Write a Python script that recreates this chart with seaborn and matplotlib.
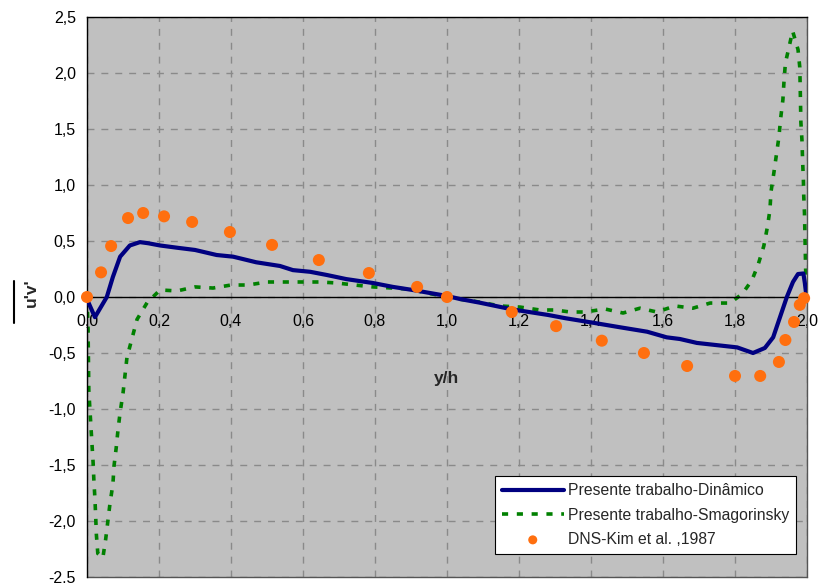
import matplotlib
matplotlib.use("Agg")
import matplotlib.pyplot as plt
import seaborn as sns
from matplotlib.lines import Line2D

sns.set_style("white")
plt.rcParams["font.family"] = ["Liberation Sans", "DejaVu Sans"]

# Presente trabalho - modelo dinâmico
din_x = [0.0, 0.022, 0.055, 0.072, 0.092, 0.119, 0.147, 0.17, 0.203, 0.25, 0.3,
         0.36, 0.406, 0.47, 0.536, 0.572, 0.62, 0.667, 0.72, 0.794, 0.85, 0.906,
         1.0, 1.036, 1.09, 1.18, 1.28, 1.33, 1.406, 1.48, 1.556, 1.61, 1.647,
         1.694, 1.75, 1.806, 1.85, 1.883, 1.906, 1.925, 1.944, 1.961, 1.975,
         1.99, 1.994, 1.997]
din_y = [-0.02, -0.18, 0.0, 0.18, 0.36, 0.46, 0.49, 0.48, 0.46, 0.44, 0.42,
         0.375, 0.36, 0.31, 0.277, 0.24, 0.225, 0.196, 0.16, 0.125, 0.09, 0.062,
         0.009, -0.018, -0.05, -0.11, -0.16, -0.19, -0.23, -0.27, -0.31, -0.36,
         -0.375, -0.41, -0.43, -0.45, -0.5, -0.455, -0.36, -0.18, 0.0, 0.134,
         0.205, 0.21, 0.125, 0.045]

# Presente trabalho - modelo de Smagorinsky
sma_x = [0.0, 0.003, 0.005, 0.008, 0.011, 0.014, 0.017, 0.019, 0.022, 0.024,
         0.026, 0.03, 0.044, 0.052, 0.058, 0.064, 0.072, 0.075, 0.081, 0.086,
         0.092, 0.1, 0.111, 0.125, 0.139, 0.167, 0.203, 0.25, 0.3, 0.35, 0.4,
         0.447, 0.5, 0.544, 0.6, 0.647, 0.694, 0.744, 0.794, 0.847, 0.897, 0.944,
         1.0, 1.036, 1.09, 1.147, 1.203, 1.258, 1.3, 1.342, 1.383, 1.439, 1.489,
         1.536, 1.583, 1.633, 1.683, 1.731, 1.786, 1.82, 1.847, 1.864, 1.88,
         1.89, 1.897, 1.9, 1.908, 1.915, 1.922, 1.927, 1.933, 1.936, 1.94, 1.95,
         1.96, 1.975, 1.98, 1.981, 1.982, 1.983, 1.986, 1.988, 1.99, 1.991,
         1.993, 1.994, 1.995, 1.996, 1.997, 1.998]
sma_y = [0.0, -0.3, -0.83, -1.0, -1.16, -1.32, -1.48, -1.63, -1.8, -1.95,
         -2.12, -2.29, -2.33, -2.16, -2.0, -1.84, -1.67, -1.51, -1.35, -1.19,
         -1.03, -0.86, -0.54, -0.37, -0.2, -0.05, 0.063, 0.054, 0.09, 0.08, 0.107,
         0.107, 0.134, 0.134, 0.134, 0.134, 0.125, 0.107, 0.09, 0.08, 0.07, 0.036,
         0.0, -0.02, -0.045, -0.08, -0.09, -0.116, -0.116, -0.134, -0.134, -0.107,
         -0.143, -0.1, -0.134, -0.08, -0.1, -0.054, -0.054, 0.027, 0.15, 0.286,
         0.455, 0.625, 0.777, 0.94, 1.11, 1.27, 1.43, 1.6, 1.76, 1.92, 2.09,
         2.23, 2.375, 2.21, 2.05, 1.89, 1.73, 1.56, 1.4, 1.2, 1.04, 0.9, 0.75,
         0.6, 0.44, 0.29, 0.125, 0.02]

# DNS - Kim et al., 1987
dns_x = [0.0, 0.039, 0.067, 0.114, 0.156, 0.214, 0.292, 0.397, 0.514, 0.644,
         0.783, 0.917, 1.0, 1.18, 1.303, 1.43, 1.547, 1.667, 1.8, 1.87, 1.922,
         1.94, 1.964, 1.98, 1.992]
dns_y = [0.0, 0.22, 0.455, 0.705, 0.75, 0.72, 0.67, 0.58, 0.465, 0.33, 0.214,
         0.09, 0.0, -0.134, -0.26, -0.39, -0.5, -0.616, -0.705, -0.705, -0.58,
         -0.384, -0.223, -0.07, -0.01]

labels = ["Presente trabalho-Dinâmico", "Presente trabalho-Smagorinsky",
          "DNS-Kim et al. ,1987"]

xticks = [0.0, 0.2, 0.4, 0.6, 0.8, 1.0, 1.2, 1.4, 1.6, 1.8, 2.0]
xtick_labels = ["0,0", "0,2", "0,4", "0,6", "0,8", "1,0", "1,2", "1,4", "1,6",
                "1,8", "2,0"]
yticks = [-2.5, -2.0, -1.5, -1.0, -0.5, 0.0, 0.5, 1.0, 1.5, 2.0, 2.5]
ytick_labels = ["-2,5", "-2,0", "-1,5", "-1,0", "-0,5", "0,0", "0,5", "1,0",
                "1,5", "2,0", "2,5"]

fig = plt.figure(figsize=(8.19, 5.83), dpi=100)
ax = fig.add_axes([87 / 819, 1 - 577 / 583, 720 / 819, 560 / 583])
ax.set_facecolor("#C0C0C0")

sns.lineplot(x=din_x, y=din_y, ax=ax, color="#000080", lw=3.0, sort=False,
             estimator=None, label=labels[0], zorder=3)
sns.lineplot(x=sma_x, y=sma_y, ax=ax, color="#008000", lw=2.6, sort=False,
             estimator=None, label=labels[1], zorder=2,
             linestyle=(0, (1.7, 2.4)))
sns.scatterplot(x=dns_x, y=dns_y, ax=ax, color="#FF6F0F", s=75,
                edgecolor="none", label=labels[2], zorder=4, clip_on=False)

ax.set_xlim(0, 2)
ax.set_ylim(-2.5, 2.5)
ax.set_xticks(xticks)
ax.set_xticklabels(xtick_labels)
ax.set_yticks(yticks)
ax.set_yticklabels(ytick_labels)

ax.grid(True, color="#8A8A8A", lw=1.0, linestyle=(0, (5, 5)))
ax.set_axisbelow(True)

# axis frame: y axis and top in black, x axis through zero
ax.spines["bottom"].set_position(("data", 0))
ax.spines["bottom"].set_color("black")
ax.spines["left"].set_color("black")
ax.spines["top"].set_color("black")
ax.spines["right"].set_color("#555555")
for s in ax.spines.values():
    s.set_linewidth(1.0)
ax.axhline(-2.5, color="#555555", lw=1.0, clip_on=False, zorder=1)

ax.tick_params(axis="x", direction="out", length=5, width=1, pad=7,
               labelsize=11.5, colors="black")
ax.tick_params(axis="y", direction="out", length=5, width=1, pad=3,
               labelsize=11.5, colors="black")

ax.set_xlabel("y/h", fontweight="bold", fontsize=12.5)
ax.xaxis.set_label_coords(0.5, 0.368)
ax.set_ylabel("u'v'", fontweight="bold", fontsize=12.5)
ax.yaxis.set_label_coords(-0.0667, 0.507)
fig.add_artist(Line2D([14 / 819, 14 / 819], [1 - 281 / 583, 1 - 323 / 583],
                      color="black", lw=1.5))

leg = ax.legend(loc="lower right", bbox_to_anchor=(0.9847, 0.041),
                borderaxespad=0, frameon=True, fancybox=False,
                edgecolor="black", facecolor="white", framealpha=1,
                fontsize=11.3, handlelength=3.95, handletextpad=0.25,
                labelspacing=0.6, borderpad=0.45, markerscale=0.75)
leg.get_frame().set_linewidth(0.8)

fig.savefig("out.png", dpi=100)
